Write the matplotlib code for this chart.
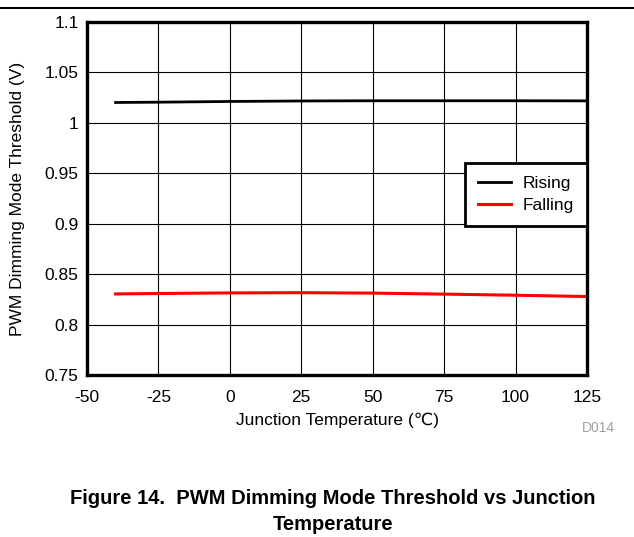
import matplotlib
matplotlib.use("Agg")
from matplotlib import pyplot as plt
from matplotlib.lines import Line2D

plt.rcParams["font.family"] = ["Liberation Sans", "DejaVu Sans"]
plt.rcParams["axes.unicode_minus"] = False

temp = [-40, -25, 0, 25, 50, 75, 100, 125]
rising = [1.0202, 1.0205, 1.0212, 1.0217, 1.0219, 1.0219, 1.0219, 1.0218]
falling = [0.8304, 0.8308, 0.8314, 0.8316, 0.8312, 0.8302, 0.8291, 0.8278]

x_ticks = [-50, -25, 0, 25, 50, 75, 100, 125]
y_ticks = [0.75, 0.8, 0.85, 0.9, 0.95, 1, 1.05, 1.1]
y_labels = ["0.75", "0.8", "0.85", "0.9", "0.95", "1", "1.05", "1.1"]

W, H = 634, 537
fig = plt.figure(figsize=(W / 100, H / 100), dpi=100)
ax = fig.add_axes([87 / W, 1 - 375 / H, 500 / W, 353 / H])

ax.plot(temp, rising, color="black", lw=2, label="Rising")
ax.plot(temp, falling, color="red", lw=2.2, label="Falling")

ax.set_xlim(-50, 125)
ax.set_ylim(0.75, 1.1)
ax.set_xticks(x_ticks)
ax.set_yticks(y_ticks)
ax.set_yticklabels(y_labels)
ax.tick_params(axis="both", length=0, labelsize=12.5)
ax.tick_params(axis="y", pad=6)
ax.tick_params(axis="x", pad=11)
ax.grid(True, color="black", lw=0.8)
for s in ax.spines.values():
    s.set_linewidth(2.4)

ax.set_xlabel("Junction Temperature (℃)", fontsize=12.5, labelpad=5)
ax.set_ylabel("PWM Dimming Mode Threshold (V)", fontsize=12.5, labelpad=14)

leg = ax.legend(loc="upper right", bbox_to_anchor=(1.0, 1 - (163 - 22) / 353),
                fontsize=12.5, fancybox=False, framealpha=1, edgecolor="black",
                handlelength=1.9, borderpad=0.75, labelspacing=0.38,
                handletextpad=0.65, borderaxespad=0)
leg.get_frame().set_linewidth(2)

fig.text(582 / W, 1 - 428 / H, "D014", color="#a0a0a0", fontsize=10,
         ha="left", va="center")

# rule across the top of the page
fig.add_artist(Line2D([0, 1], [1 - 7.5 / H, 1 - 7.5 / H], color="black", lw=1.5))

fig.text(333 / W, 1 - 498 / H, "Figure 14.  PWM Dimming Mode Threshold vs Junction",
         fontsize=14.5, fontweight="bold", ha="center", va="center")
fig.text(333 / W, 1 - 525 / H, "Temperature",
         fontsize=14.5, fontweight="bold", ha="center", va="center")

fig.savefig("out.png", dpi=100)
